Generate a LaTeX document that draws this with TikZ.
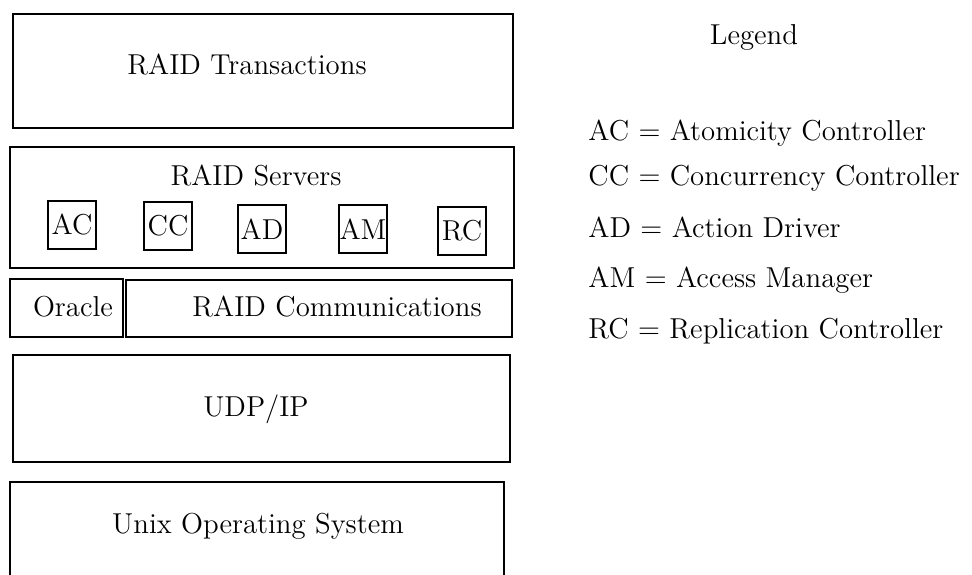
\documentclass[tikz,border=0pt]{standalone}
\usepackage{amsmath}
\usepackage{tikz}
\usetikzlibrary{positioning}

\tikzset{
  layer/.style={draw,line width=1.2pt,inner sep=0pt,anchor=north west},
  module/.style={draw,line width=1.1pt,inner sep=0pt,minimum width=24pt,minimum height=24pt}
}

\begin{document}
\begin{tikzpicture}[x=0.5pt,y=-0.5pt,font=\fontsize{14.4}{17}\selectfont]
  \useasboundingbox (0,0) rectangle (972,574);
  % protocol stack, top to bottom
  \node[layer,minimum width=250pt,minimum height=57pt] (trans) at (12,13) {};
  \node[layer,minimum width=252pt,minimum height=60.5pt] (serv) at (9,146) {};
  \node[layer,minimum width=56.5pt,minimum height=29pt] (oracle) at (9,278) {};
  \node[layer,minimum width=193pt,minimum height=28.5pt] (comm) at (125,279) {};
  \node[layer,minimum width=248.5pt,minimum height=53.5pt] (udp) at (12,354) {};
  \node[layer,minimum width=247pt,minimum height=60pt] (unix) at (9,481) {};
  \node (transtxt) at (247,65) {RAID Transactions};
  \node (servtxt) at (256,176) {RAID Servers};
  \node (oracletxt) at (73,307) {Oracle};
  \node (commtxt) at (337,307) {RAID Communications};
  \node (udptxt) at (256,409) {UDP/IP};
  \node (unixtxt) at (258,526) {Unix Operating System};
  % server modules
  \foreach \cx/\cy/\abbr in {72/225/AC,168/226/CC,262/229/AD,363/229/AM,462/231/RC}
    \node[module] (mod\abbr) at (\cx,\cy) {\abbr};
  % legend
  \node[anchor=base] (legend) at (754,44) {Legend};
  \foreach \by/\abbr/\full in {140/AC/Atomicity Controller,185/CC/Concurrency Controller,237/AD/Action Driver,287/AM/Access Manager,338/RC/Replication Controller}
    \node[anchor=base west,inner sep=0pt] (leg\abbr) at (588,\by) {\abbr\ $=$ \full};
\end{tikzpicture}
\end{document}
